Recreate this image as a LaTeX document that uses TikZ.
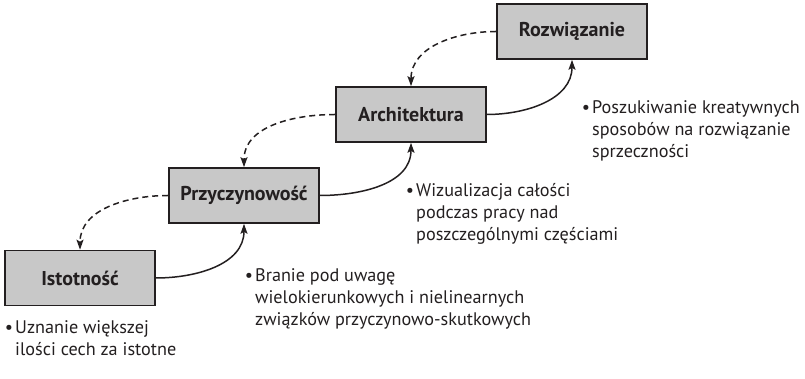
\documentclass[tikz,border=0pt]{standalone}
\usepackage{fontspec}
\setmainfont{PT Sans}
\usetikzlibrary{arrows.meta}
\definecolor{boxGray}{RGB}{200,200,200}
\definecolor{inkGray}{RGB}{35,31,32}

\begin{document}
\begin{tikzpicture}[x=1pt,y=1pt,
        boxNode/.style = {draw=inkGray,fill=boxGray,line width=1.6pt,minimum width=150pt,minimum height=55pt,inner sep=0pt,text=inkGray,font=\fontsize{20}{22}\selectfont\bfseries},
        noteNode/.style = {anchor=base west,inner sep=0pt,text=inkGray,font=\fontsize{18.2}{22}\selectfont},
        stepArrow/.style = {draw=inkGray,line width=1.5pt,-{Stealth[length=10pt,width=7pt,inset=2pt]}},
        backArrow/.style = {stepArrow,dash pattern=on 6pt off 4pt} % dashed way back
        ]
        \useasboundingbox (0,0) rectangle (805,379);
        \node[boxNode] (ist) at (80,101) {Istotność};
        \node[boxNode] (prz) at (244,183.5) {Przyczynowość};
        \node[boxNode] (arc) at (411,264.5) {Architektura};
        \node[boxNode] (roz) at (572,347.5) {Rozwiązanie};
        \draw[stepArrow] (ist.east) to[out=0,in=-90] (prz.south);
        \draw[stepArrow] (prz.east) to[out=0,in=-90] (arc.south);
        \draw[stepArrow] (arc.east) to[out=0,in=-90] (roz.south);
        \draw[backArrow] (roz.west) to[out=180,in=90] (arc.north);
        \draw[backArrow] (arc.west) to[out=180,in=90] (prz.north);
        \draw[backArrow] (prz.west) to[out=180,in=90] (ist.north);
        \node[noteNode] (istNote) at (15,45) {\begin{tabular}[t]{@{}l@{}}\llap{•\hspace{2pt}}Uznanie większej\\ilości cech za istotne\end{tabular}};
        \node[noteNode] (przNote) at (255,97) {\begin{tabular}[t]{@{}l@{}}\llap{•\hspace{2pt}}Branie pod uwagę\\wielokierunkowych i nielinearnych\\związków przyczynowo-skutkowych\end{tabular}};
        \node[noteNode] (arcNote) at (416,182) {\begin{tabular}[t]{@{}l@{}}\llap{•\hspace{2pt}}Wizualizacja całości\\podczas pracy nad\\poszczególnymi częściami\end{tabular}};
        \node[noteNode] (rozNote) at (592,265) {\begin{tabular}[t]{@{}l@{}}\llap{•\hspace{2pt}}Poszukiwanie kreatywnych\\sposobów na rozwiązanie\\sprzeczności\end{tabular}};
    \end{tikzpicture}
\end{document}
